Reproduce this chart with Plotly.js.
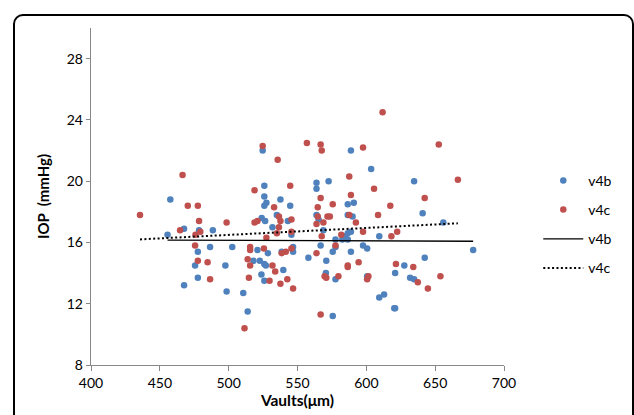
<!DOCTYPE html>
<html>
<head>
<meta charset="utf-8">
<script src="https://cdn.plot.ly/plotly-3.0.1.min.js"></script>
<style>
  html, body { margin: 0; padding: 0; background: #fff; }
  #chart { width: 634px; height: 415px; position: absolute; left: 0; top: 0; }
  #frame { position: absolute; left: 13px; top: 14px; width: 617px; height: 430px;
           border: 2px solid #000; border-radius: 10px; pointer-events: none; }
</style>
</head>
<body>
<div id="chart"></div>
<div id="frame"></div>
<script>
// Vault (µm) and IOP (mmHg) for series v4b
const v4bVault = [455.6,457.6,467.6,467.6,475.6,477.6,477.6,478.5,488.5,486.5,
  497.6,498.5,502.6,510.6,513.8,518,520.9,524.7,525.9,525.9,
  525.9,527.4,526.5,524,522.6,523.8,525.9,525.9,527,528.5,
  531.8,535,537.6,538.5,539.7,543,544.7,545.6,546.8,546.8,
  557.9,563.8,563.8,563.8,565.3,566.8,568.8,570.9,570.6,572.6,
  575.6,575.6,577.6,577.6,577.6,582.6,584.4,586.5,586.5,586.5,
  586.5,588.8,588.8,588.8,590,590.9,597.6,600.6,600.6,603.5,
  609.4,609.4,612.9,620.3,620.9,620.9,627.6,631.8,634.7,634.7,
  640.9,642.4,655.9,677.6];
const v4bIOP = [16.5,18.8,16.9,13.2,14.5,15.4,13.7,16.8,16.8,15.7,
  14.5,12.8,15.7,12.7,11.5,14.8,15.5,22.0,19.7,19.0,
  18.4,18.6,17.4,17.6,14.8,13.9,13.5,14.6,14.5,15.3,
  17.0,17.8,18.8,15.4,14.2,17.4,18.4,16.5,15.7,15.4,
  15.0,19.9,19.5,17.8,17.5,15.8,16.8,14.8,14.0,20.0,
  15.4,11.2,16.2,15.7,13.6,16.2,16.4,18.5,17.8,16.6,
  16.2,22.0,16.7,15.4,17.7,18.6,15.8,15.6,13.8,20.8,
  16.4,12.4,12.6,11.7,11.7,14.0,14.5,13.7,13.6,20.0,
  17.9,15.0,17.3,15.5];

// Vault (µm) and IOP (mmHg) for series v4c
const v4cVault = [435.6,464.7,466.5,470.3,475.6,475.9,477.6,478.5,479.4,477.6,
  484.7,486.5,498.5,511.5,513.8,514.7,515.6,515.6,515.6,518.8,
  518.8,520.9,524.7,525.6,527.4,529.7,531.8,533,533.8,535,
  535.6,536.5,536.5,537.6,537.6,538.5,541.5,542.6,544.7,545.6,
  545.6,545.6,546.8,556.8,563.8,563.8,564.7,564.7,566.8,566.8,
  566.8,567.6,567.6,568.8,569.7,570.9,571.8,573.5,575.6,577.6,
  579.7,581.8,586.5,586.5,587.6,587.6,588.8,592.4,594.4,597.6,
  597.6,600.6,601.5,605.6,608.5,611.8,617.4,618.2,622.4,621.5,
  634.1,637.4,642.4,644.7,652.6,653.8,666.5];
const v4cIOP = [17.8,16.8,20.4,18.4,15.8,16.5,18.4,17.4,16.7,14.8,
  14.7,13.6,17.3,10.4,14.9,13.7,15.7,15.5,14.5,19.4,
  17.3,17.4,22.3,15.6,16.3,13.5,14.5,18.3,14.1,16.6,
  21.4,17.7,17.0,17.4,13.3,15.3,15.4,13.6,19.7,17.5,
  16.7,15.6,13.0,22.5,15.3,17.2,17.7,18.3,22.4,18.9,
  11.3,22.0,16.4,17.3,13.8,13.7,17.7,17.7,18.5,15.8,
  13.8,16.5,14.5,14.4,20.3,17.8,19.1,17.3,14.7,22.2,
  16.7,13.6,13.8,19.5,17.8,24.5,18.4,16.4,16.7,14.6,
  14.4,13.4,18.9,13.0,22.4,13.8,20.1];

// Trend line end points
const v4bTrendVault = [455.6, 677.6];
const v4bTrendIOP = [16.15, 16.08];
const v4cTrendVault = [435.6, 666.5];
const v4cTrendIOP = [16.2, 17.25];

const seriesNames = ['v4b', 'v4c'];
const xTicks = [400, 450, 500, 550, 600, 650, 700];
const yTicks = [8, 12, 16, 20, 24, 28];

const FONT = 'Lato, "Open Sans", "Liberation Sans", sans-serif';
const BLUE = '#4F81BD', RED = '#C0504D';

const traces = [
  { x: v4bVault, y: v4bIOP, name: seriesNames[0], type: 'scatter', mode: 'markers',
    legendgroup: 'a', marker: { color: BLUE, size: 6.5 } },
  { x: v4cVault, y: v4cIOP, name: seriesNames[1], type: 'scatter', mode: 'markers',
    legendgroup: 'b', marker: { color: RED, size: 6.5 } },
  { x: v4bTrendVault, y: v4bTrendIOP, name: seriesNames[0], type: 'scatter', mode: 'lines',
    legendgroup: 'c', line: { color: '#000', width: 1.3 } },
  { x: v4cTrendVault, y: v4cTrendIOP, name: seriesNames[1], type: 'scatter', mode: 'lines',
    legendgroup: 'd', line: { color: '#000', width: 2, dash: '2px,2.4px' } }
];

const layout = {
  width: 634, height: 415,
  margin: { l: 91.4, r: 130.2, t: 28.3, b: 50.3, pad: 0 },
  paper_bgcolor: '#fff', plot_bgcolor: '#fff',
  font: { family: FONT, size: 14, color: '#000' },
  xaxis: {
    range: [400, 700], tickvals: xTicks, ticktext: xTicks.map(String),
    showgrid: false, zeroline: false, showline: true, linecolor: '#888', linewidth: 1.3,
    ticks: 'outside', ticklen: 5, tickcolor: '#888', tickwidth: 1,
    tickfont: { family: FONT, size: 14, color: '#000' },
    title: { text: 'Vaults(μm)', font: { family: FONT, size: 15.5, color: '#000', weight: 'bold' }, standoff: 5 }
  },
  yaxis: {
    range: [8, 30], tickvals: yTicks, ticktext: yTicks.map(String),
    showgrid: false, zeroline: false, showline: true, linecolor: '#888', linewidth: 1.3,
    ticks: 'outside', ticklen: 4, tickcolor: '#888', tickwidth: 1,
    tickfont: { family: FONT, size: 14, color: '#000' },
    title: { text: 'IOP&nbsp;&nbsp;(mmHg)', font: { family: FONT, size: 15, color: '#000', weight: 'bold' }, standoff: 13 }
  },
  showlegend: true,
  legend: {
    x: 1.083, xanchor: 'left', y: 0.594, yanchor: 'top',
    bgcolor: 'rgba(0,0,0,0)', borderwidth: 0,
    font: { family: FONT, size: 14, color: '#000' },
    itemwidth: 40, tracegroupgap: 8, traceorder: 'grouped'
  }
};

Plotly.newPlot('chart', traces, layout, { staticPlot: true, displayModeBar: false });
</script>
</body>
</html>
